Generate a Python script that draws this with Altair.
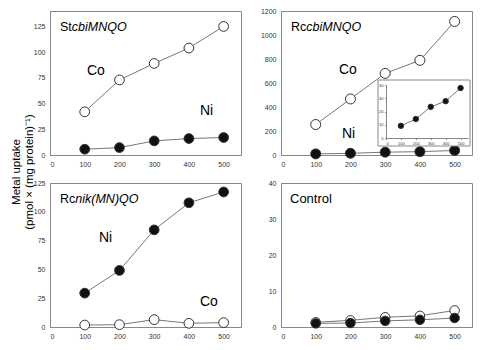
import altair as alt
import pandas as pd

# ---- data ----
doses = [100, 200, 300, 400, 500]
st_co = [42, 73, 89, 104, 125]
st_ni = [5.6, 7.2, 13.7, 16.0, 17.0]
rc_co = [254, 467, 680, 789, 1113]
rc_ni = [9.2, 14.3, 23.5, 27.8, 37.7]
nik_ni = [29.4, 49.1, 84.3, 107.8, 117.2]
nik_co = [1.7, 2.0, 6.4, 3.2, 3.8]
ctl_co = [1.3, 1.85, 2.7, 3.1, 4.6]
ctl_ni = [1.0, 1.1, 1.7, 2.0, 2.5]
x_ticks = [0, 100, 200, 300, 400, 500]

W, H = 191, 144
FONT = "Liberation Sans"
LINE = "#777777"
FRAME = "#888888"


def long_df(co, ni):
    return pd.DataFrame({
        "dose": doses + doses,
        "uptake": co + ni,
        "metal": ["Co"] * len(co) + ["Ni"] * len(ni),
    })


def series(df, ydom, yvals, size=95, xsc=None, ysc=None, xaxis=None, yaxis=None):
    xsc = xsc or alt.Scale(domain=[0, 550], nice=False, zero=False)
    ysc = ysc or alt.Scale(domain=ydom, nice=False, zero=False)
    xaxis = xaxis if xaxis is not None else alt.Axis(
        values=x_ticks, title=None, ticks=False, labelPadding=5, labelFontSize=7,
        labelColor="#333", domainColor=FRAME, grid=False, format="d")
    yaxis = yaxis if yaxis is not None else alt.Axis(
        values=yvals, title=None, ticks=False, labelPadding=5, labelFontSize=7,
        labelColor="#333", domainColor=FRAME, grid=False, format="d")
    base = alt.Chart(df).encode(
        x=alt.X("dose:Q", scale=xsc, axis=xaxis),
        y=alt.Y("uptake:Q", scale=ysc, axis=yaxis),
    )
    lines = base.mark_line(color=LINE, strokeWidth=1).encode(detail="metal:N")
    pts = base.mark_point(shape="circle", size=size, filled=True, opacity=1,
                          stroke="#333", strokeWidth=1).encode(
        fill=alt.Fill("metal:N", scale=alt.Scale(domain=["Co", "Ni"], range=["white", "#111"]),
                      legend=None))
    return alt.layer(lines, pts)


one = pd.DataFrame({"k": [0]})


def label(text, x, y, size=14, italic=False, dx=0):
    return alt.Chart(one).mark_text(
        text=text, align="left", baseline="middle", font=FONT, fontSize=size,
        fontStyle="italic" if italic else "normal", color="black", dx=dx,
    ).encode(x=alt.value(x), y=alt.value(y))


def panel_label(prefix, rest, prefix_w):
    parts = [label(prefix, 10, 16, size=12.5)]
    if rest:
        parts.append(label(rest, 10, 16, size=12.5, italic=True, dx=prefix_w))
    return parts


# Panel 1
p1 = alt.layer(
    series(long_df(st_co, st_ni), [0, 140], [0, 25, 50, 75, 100, 125]),
    *panel_label("St", "cbiMNQO", 11.8),
    label("Co", 37, 60), label("Ni", 150, 100),
).properties(width=W, height=H)

# Panel 2 with inset
main2 = series(long_df(rc_co, rc_ni), [0, 1200], [0, 200, 400, 600, 800, 1000, 1200], size=100)
inset_df = pd.DataFrame({"dose": doses, "uptake": rc_ni, "metal": ["Ni"] * 5})
inset = series(
    inset_df, [0, 40], [0, 10, 20, 30, 40], size=30,
    xsc=alt.Scale(domain=[0, 550], range=[105, 187], nice=False, zero=False),
    ysc=alt.Scale(domain=[0, 40], range=[127, 74], nice=False, zero=False),
    xaxis=alt.Axis(values=x_ticks, title=None, orient="bottom", offset=-17, ticks=True,
                   tickSize=1.5, labelFontSize=4, labelPadding=1.5, labelColor="#333",
                   domainColor=FRAME, tickColor=FRAME, grid=False, zindex=2, format="d"),
    yaxis=alt.Axis(values=[0, 10, 20, 30, 40], title=None, orient="left", offset=-105,
                   ticks=True, tickSize=1.5, labelFontSize=4, labelPadding=1.5,
                   labelColor="#333", domainColor=FRAME, tickColor=FRAME, grid=False,
                   zindex=2, format="d"),
)
inset_box = alt.Chart(one).mark_rect(fill="white", stroke=FRAME, strokeWidth=1).encode(
    x=alt.value(97), x2=alt.value(189), y=alt.value(69), y2=alt.value(135))
main2_layer = alt.layer(main2, *panel_label("Rc", "cbiMNQO", 15.3),
                        label("Co", 58, 59), label("Ni", 61, 123))
p2 = alt.layer(main2_layer, inset_box, inset).resolve_scale(
    x="independent", y="independent").properties(width=W, height=H)

# Panel 3
p3 = alt.layer(
    series(long_df(nik_co, nik_ni), [0, 125], [0, 25, 50, 75, 100, 125]),
    *panel_label("Rc", "nik(MN)QO", 15.3),
    label("Ni", 49, 55), label("Co", 150, 119),
).properties(width=W, height=H)

# Panel 4
p4 = alt.layer(
    series(long_df(ctl_co, ctl_ni), [0, 40], [0, 10, 20, 30, 40], size=90),
    label("Control", 9, 16, size=13),
).properties(width=W, height=H)

chart = alt.concat(
    p1, p2, p3, p4, columns=2, spacing={"row": 28, "column": 40}, bounds="flush",
    title=alt.TitleParams(
        text=["Metal uptake", "(pmol \u00d7 (mg protein)\u207b\u00b9)"],
        orient="left", anchor="middle", fontSize=11.5, font=FONT, fontWeight="normal",
        color="black", lineHeight=13, offset=-3, dx=1),
).properties(
    padding={"left": 11, "top": 6, "right": 5, "bottom": 5}
).configure(font=FONT).configure_view(stroke=FRAME, strokeWidth=1)

chart.save("out.html", embed_options={"renderer": "svg", "actions": False})
